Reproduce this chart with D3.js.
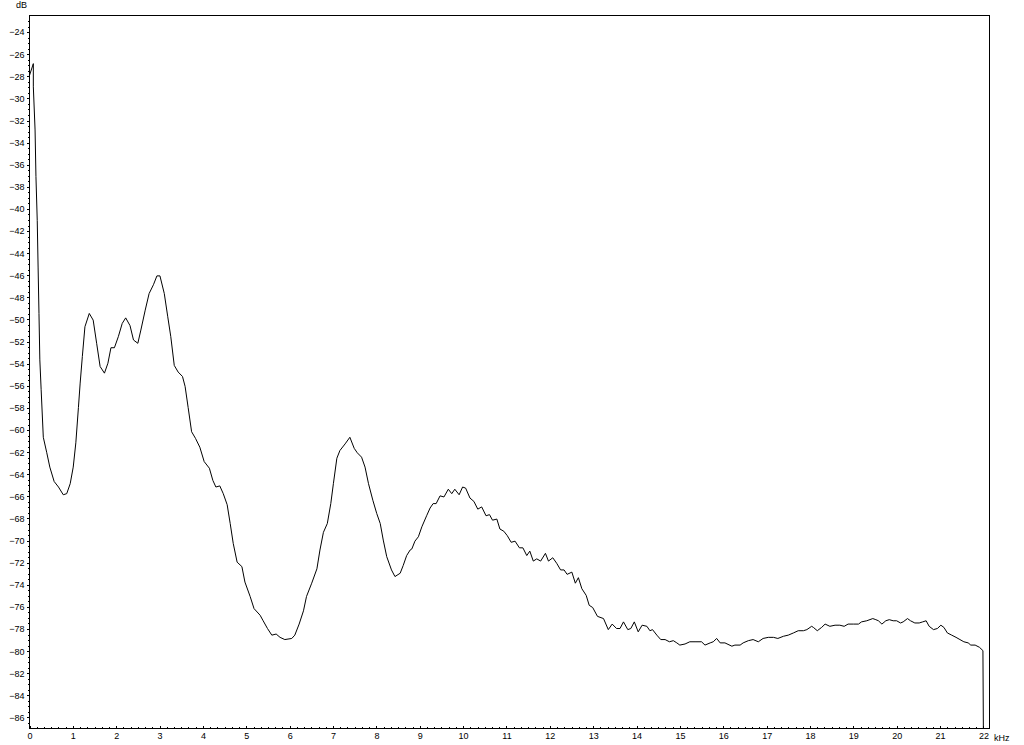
<!DOCTYPE html>
<meta charset="utf-8">
<style>
    body {
        margin: 0;
        background: white;
    }

    text {
        font-family: "Liberation Sans", Arial, sans-serif;
        font-size: 9px;
        fill: black;
    }

    .frame {
        fill: none;
        stroke: black;
        stroke-width: 1;
        shape-rendering: crispEdges;
    }

    .tick line {
        stroke: black;
        shape-rendering: crispEdges;
    }

    .spectrum {
        fill: none;
        stroke: black;
        stroke-width: 1;
    }
</style>

<body>
    <svg width="1024" height="745"></svg>
    <script src="https://d3js.org/d3.v7.min.js"></script>
    <script>
        // spectrum: frequency in kHz, level in dB
        var freqKHz = [
            0, 0.10, 0.10, 0.14, 0.16, 0.19, 0.21, 0.23, 0.25, 0.28, 0.33, 0.41, 0.48, 0.58, 0.68, 0.79, 0.87, 0.95, 1.02, 1.08,
            1.14, 1.18, 1.23, 1.29, 1.39, 1.48, 1.56, 1.64, 1.74, 1.82, 1.89, 1.97, 2.06, 2.15, 2.23, 2.33, 2.41, 2.51, 2.58, 2.68,
            2.77, 2.87, 2.95, 3.02, 3.12, 3.20, 3.27, 3.35, 3.44, 3.54, 3.60, 3.67, 3.75, 3.84, 3.94, 4.04,
            4.16, 4.24, 4.31, 4.40, 4.48, 4.57, 4.64, 4.71, 4.80, 4.91, 4.98, 5.10, 5.19, 5.33, 5.40, 5.50, 5.60, 5.70, 5.79, 5.90,
            6.06, 6.13, 6.23, 6.33, 6.40, 6.52, 6.64, 6.71, 6.79, 6.88, 6.96, 7.02, 7.10, 7.17, 7.29, 7.40, 7.50, 7.57, 7.67, 7.75,
            7.83, 7.93, 8.02, 8.10, 8.17, 8.25, 8.36, 8.44, 8.56, 8.63, 8.71, 8.79,
            8.83, 8.90, 8.98, 9.06, 9.17, 9.25, 9.32, 9.39, 9.48, 9.57, 9.67, 9.75, 9.82, 9.92, 10.00, 10.07, 10.17, 10.26, 10.35, 10.44,
            10.54, 10.62, 10.69, 10.79, 10.86, 10.95, 11.03, 11.12, 11.21, 11.31, 11.39, 11.48, 11.55, 11.63, 11.71, 11.80, 11.91, 11.98, 12.08, 12.17,
            12.26, 12.34, 12.41, 12.52, 12.60, 12.67, 12.75, 12.85, 12.92, 13.00, 13.11, 13.25, 13.36, 13.45, 13.55, 13.63, 13.71, 13.81, 13.88, 13.96,
            14.05, 14.14, 14.25, 14.32,
            14.38, 14.48, 14.57, 14.67, 14.77, 14.86, 14.94, 15.01, 15.13, 15.24, 15.36, 15.51, 15.59, 15.71, 15.78, 15.86, 15.94, 16.05, 16.21, 16.28,
            16.40, 16.47, 16.59, 16.70, 16.82, 16.93, 17.05, 17.17, 17.27, 17.40, 17.51, 17.63, 17.74, 17.86, 17.94, 18.05, 18.09, 18.18, 18.28, 18.36,
            18.47, 18.59, 18.70, 18.80, 18.89, 19.01, 19.13, 19.20, 19.32, 19.46, 19.53, 19.59, 19.67, 19.76, 19.84, 19.93, 20.01, 20.10, 20.16, 20.26,
            20.33, 20.43, 20.53, 20.61, 20.69, 20.76, 20.86, 20.95, 21.03, 21.10, 21.18, 21.28, 21.38, 21.47, 21.56, 21.66, 21.72, 21.82, 21.92, 22.00,
            22.01
        ];
        var levelDb = [
            -28.1, -26.9, -29.0, -32.9, -37.1, -41.1, -45.3, -49.5, -53.7, -56.4, -60.7, -62.1, -63.4, -64.7, -65.2, -65.9, -65.8, -64.9, -63.4, -61.2,
            -58.0, -55.8, -53.4, -50.7, -49.5, -50.1, -52.2, -54.3, -54.9, -54.0, -52.6, -52.6, -51.6, -50.4, -49.9, -50.6, -51.9, -52.2, -51.0, -49.2,
            -47.7, -46.9, -46.1, -46.1, -47.7, -49.8, -51.6, -54.2, -54.8, -55.2, -56.1, -58.0, -60.2, -60.8, -61.6, -62.9,
            -63.5, -64.6, -65.2, -65.1, -65.8, -66.8, -68.5, -70.3, -72.0, -72.4, -73.8, -75.1, -76.2, -76.8, -77.3, -78.0, -78.6, -78.5, -78.8, -79.0,
            -78.9, -78.6, -77.6, -76.4, -75.1, -73.9, -72.6, -70.9, -69.3, -68.5, -66.7, -64.9, -62.6, -61.9, -61.3, -60.7, -61.7, -62.1, -62.5, -63.4,
            -64.9, -66.4, -67.6, -68.5, -70.0, -71.5, -72.7, -73.3, -73.0, -72.3, -71.4, -70.9,
            -70.8, -70.1, -69.7, -68.8, -67.8, -67.1, -66.7, -66.7, -66.0, -66.1, -65.4, -65.8, -65.4, -65.9, -65.2, -65.3, -66.2, -66.5, -67.2, -67.0,
            -67.8, -67.7, -68.2, -68.1, -69.0, -69.2, -69.6, -70.2, -70.1, -70.7, -70.7, -71.4, -71.0, -71.9, -71.7, -71.9, -71.2, -71.9, -71.6, -72.1,
            -72.7, -72.7, -73.1, -72.9, -73.9, -73.4, -74.4, -75.0, -75.9, -76.1, -76.9, -77.1, -78.1, -77.6, -78.0, -78.0, -77.4, -78.1, -78.0, -77.4,
            -78.3, -77.7, -77.8, -78.2,
            -78.1, -78.6, -79.0, -79.0, -79.2, -79.1, -79.3, -79.5, -79.4, -79.2, -79.2, -79.2, -79.5, -79.3, -79.2, -78.9, -79.3, -79.3, -79.6, -79.5,
            -79.5, -79.3, -79.1, -79.0, -79.2, -78.9, -78.8, -78.8, -78.9, -78.7, -78.6, -78.4, -78.2, -78.2, -78.1, -77.8, -77.9, -78.2, -77.9, -77.6,
            -77.8, -77.7, -77.7, -77.8, -77.6, -77.6, -77.6, -77.4, -77.3, -77.1, -77.2, -77.3, -77.6, -77.3, -77.2, -77.3, -77.3, -77.5, -77.4, -77.1,
            -77.3, -77.5, -77.5, -77.4, -77.3, -77.8, -78.1, -78.0, -77.7, -77.9, -78.4, -78.6, -78.8, -79.0, -79.2, -79.3, -79.5, -79.5, -79.7, -80.0,
            -87.0
        ];

        var xTicks = d3.range(0, 23);            // 0 .. 22 kHz
        var yTicks = d3.range(-24, -87, -2);     // -24 .. -86 dB

        var svg = d3.select("svg");
        var plotLeft = 29, plotTop = 15, plotRight = 989, plotBottom = 728;

        var x = d3.scaleLinear().domain([0, 22.14]).range([plotLeft, plotRight]);
        var y = d3.scaleLinear().domain([-22.5, -87]).range([plotTop, plotBottom]);

        // minor ticks
        svg.append("g")
            .attr("transform", "translate(" + (plotLeft + 0.5) + ",0.5)")
            .call(d3.axisLeft(y).tickValues(d3.range(-23, -87, -0.5)).tickSize(2).tickFormat(""))
            .select(".domain").remove();

        svg.append("g")
            .attr("transform", "translate(0.5," + (plotBottom + 0.5) + ")")
            .call(d3.axisBottom(x).tickValues(d3.range(0, 22.1, 1 / 6)).tickSize(-2).tickFormat(""))
            .select(".domain").remove();

        // labelled ticks
        svg.append("g")
            .attr("transform", "translate(" + (plotLeft + 0.5) + ",0.5)")
            .call(d3.axisLeft(y).tickValues(yTicks).tickSize(3).tickPadding(2))
            .select(".domain").remove();

        var xAxis = svg.append("g")
            .attr("transform", "translate(0.5," + (plotBottom + 0.5) + ")")
            .call(d3.axisBottom(x).tickValues(xTicks).tickSize(-3).tickPadding(5));
        xAxis.select(".domain").remove();
        xAxis.selectAll("text").attr("dy", "0.6em");

        svg.selectAll("g").attr("font-size", null).attr("font-family", null);

        svg.append("rect")
            .attr("class", "frame")
            .attr("x", plotLeft + 0.5)
            .attr("y", plotTop + 0.5)
            .attr("width", plotRight - plotLeft)
            .attr("height", plotBottom - plotTop);

        svg.append("text").attr("x", 16).attr("y", 8).text("dB");
        svg.append("text").attr("x", 994).attr("y", 741).text("kHz");

        var line = d3.line()
            .x(function(d) { return x(d[0]); })
            .y(function(d) { return y(d[1]); });

        svg.append("path")
            .datum(d3.zip(freqKHz, levelDb))
            .attr("class", "spectrum")
            .attr("d", line);
    </script>
</body>
